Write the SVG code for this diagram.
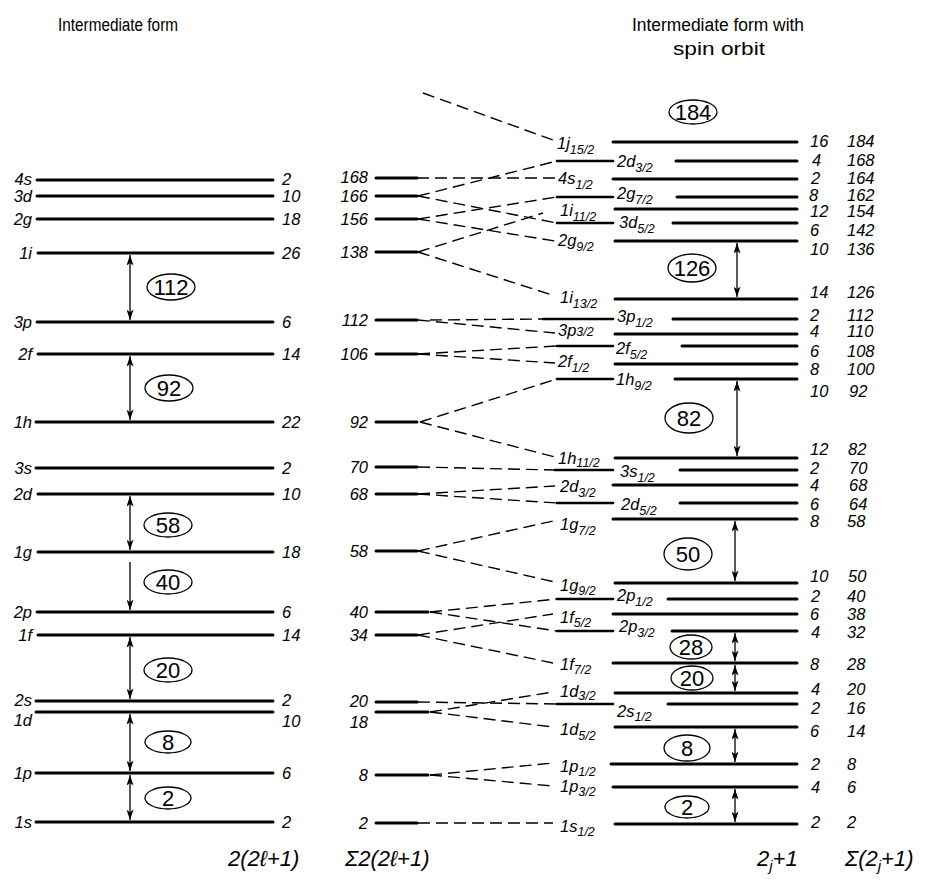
<svg xmlns="http://www.w3.org/2000/svg" width="949" height="882" viewBox="0 0 949 882">
<style>
.bg{fill:#fff}
.lv{stroke:#000;stroke-width:3;stroke-linecap:round}
.st{stroke:#000;stroke-width:2.6;stroke-linecap:round}
.dash{stroke:#000;stroke-width:1.4;stroke-dasharray:12 6;fill:none}
.t{font-family:"Liberation Sans",Arial,sans-serif;font-style:italic;font-size:16.5px;fill:#000}
.s{font-size:12.5px}
.title{font-family:"Liberation Sans",Arial,sans-serif;font-size:18px;fill:#000}
.c{font-family:"Liberation Sans",Arial,sans-serif;font-size:22px;text-anchor:middle;fill:#000}
.el{fill:none;stroke:#000;stroke-width:1.3}
.arr{stroke:#000;stroke-width:1.3;marker-end:url(#ah)}
.darr{stroke:#000;stroke-width:1.3;marker-start:url(#ah);marker-end:url(#ah)}
.e{text-anchor:end}
.bt{font-family:"Liberation Sans",Arial,sans-serif;font-style:italic;font-size:22px;fill:#000}
</style>
<defs>
<marker id="ah" viewBox="0 0 12 8" refX="12" refY="4" markerWidth="12" markerHeight="7" markerUnits="userSpaceOnUse" orient="auto-start-reverse"><path d="M0,0 L12,4 L0,8 L3,4 z" fill="#000"/></marker>
</defs>
<rect class="bg" x="0" y="0" width="949" height="882"/>

<!-- titles -->
<text class="title" x="58" y="31" textLength="120" lengthAdjust="spacingAndGlyphs">Intermediate form</text>
<text class="title" x="632" y="31" textLength="172" lengthAdjust="spacingAndGlyphs">Intermediate form with</text>
<text class="title" x="673" y="55" textLength="92" lengthAdjust="spacingAndGlyphs">spin orbit</text>

<!-- left column: intermediate form -->
<g id="L-4s"><line class="lv" x1="37" y1="180" x2="273" y2="180"/><text class="t e" x="32" y="185">4s</text><text class="t" x="282" y="185">2</text></g>
<g id="L-3d"><line class="lv" x1="37" y1="196" x2="273" y2="196"/><text class="t e" x="32" y="202">3d</text><text class="t" x="282" y="202">10</text></g>
<g id="L-2g"><line class="lv" x1="37" y1="219" x2="273" y2="219"/><text class="t e" x="32" y="225">2g</text><text class="t" x="282" y="225">18</text></g>
<g id="L-1i"><line class="lv" x1="38" y1="253" x2="273" y2="253"/><text class="t e" x="32" y="259">1i</text><text class="t" x="282" y="259">26</text></g>
<g id="L-3p"><line class="lv" x1="37" y1="322" x2="273" y2="322"/><text class="t e" x="32" y="328">3p</text><text class="t" x="282" y="328">6</text></g>
<g id="L-2f"><line class="lv" x1="38" y1="354" x2="273" y2="354"/><text class="t e" x="32" y="360">2f</text><text class="t" x="282" y="360">14</text></g>
<g id="L-1h"><line class="lv" x1="36" y1="422" x2="273" y2="422"/><text class="t e" x="32" y="428">1h</text><text class="t" x="282" y="428">22</text></g>
<g id="L-3s"><line class="lv" x1="36" y1="468" x2="273" y2="468"/><text class="t e" x="32" y="474">3s</text><text class="t" x="282" y="474">2</text></g>
<g id="L-2d"><line class="lv" x1="38" y1="494" x2="273" y2="494"/><text class="t e" x="32" y="500">2d</text><text class="t" x="282" y="500">10</text></g>
<g id="L-1g"><line class="lv" x1="38" y1="552" x2="273" y2="552"/><text class="t e" x="32" y="558">1g</text><text class="t" x="282" y="558">18</text></g>
<g id="L-2p"><line class="lv" x1="37" y1="612" x2="273" y2="612"/><text class="t e" x="32" y="618">2p</text><text class="t" x="282" y="618">6</text></g>
<g id="L-1f"><line class="lv" x1="38" y1="635" x2="273" y2="635"/><text class="t e" x="32" y="641">1f</text><text class="t" x="282" y="641">14</text></g>
<g id="L-2s"><line class="lv" x1="36" y1="701" x2="273" y2="701"/><text class="t e" x="32" y="706">2s</text><text class="t" x="282" y="706">2</text></g>
<g id="L-1d"><line class="lv" x1="36" y1="712" x2="273" y2="712"/><text class="t e" x="32" y="726">1d</text><text class="t" x="282" y="727">10</text></g>
<g id="L-1p"><line class="lv" x1="36" y1="773" x2="273" y2="773"/><text class="t e" x="32" y="779">1p</text><text class="t" x="282" y="779">6</text></g>
<g id="L-1s"><line class="lv" x1="36" y1="822" x2="273" y2="822"/><text class="t e" x="32" y="828">1s</text><text class="t" x="282" y="828">2</text></g>

<!-- left magic numbers -->
<g id="LM-112"><ellipse class="el" cx="171" cy="287" rx="24" ry="13"/><text class="c" x="171" y="295">112</text><line class="darr" x1="130" y1="255" x2="130" y2="320"/></g>
<g id="LM-92"><ellipse class="el" cx="169" cy="388" rx="24" ry="13"/><text class="c" x="169" y="396">92</text><line class="darr" x1="130" y1="356" x2="130" y2="420"/></g>
<g id="LM-58"><ellipse class="el" cx="168" cy="525" rx="24" ry="12"/><text class="c" x="168" y="533">58</text><line class="darr" x1="130" y1="496" x2="130" y2="550"/></g>
<g id="LM-40"><ellipse class="el" cx="168" cy="582" rx="24" ry="12"/><text class="c" x="168" y="590">40</text><line class="arr" x1="130" y1="562" x2="130" y2="610"/></g>
<g id="LM-20"><ellipse class="el" cx="168" cy="670" rx="24" ry="12"/><text class="c" x="168" y="678">20</text><line class="darr" x1="130" y1="637" x2="130" y2="699"/></g>
<g id="LM-8"><ellipse class="el" cx="168" cy="742" rx="23" ry="11"/><text class="c" x="168" y="750">8</text><line class="darr" x1="130" y1="714" x2="130" y2="771"/></g>
<g id="LM-2"><ellipse class="el" cx="168" cy="798" rx="23" ry="11"/><text class="c" x="168" y="806">2</text><line class="darr" x1="130" y1="775" x2="130" y2="820"/></g>

<!-- middle column: cumulative -->
<g id="M-168"><line class="lv" x1="376" y1="178" x2="417" y2="178"/><text class="t e" x="368" y="183">168</text></g>
<g id="M-166"><line class="lv" x1="376" y1="196" x2="417" y2="196"/><text class="t e" x="368" y="202">166</text></g>
<g id="M-156"><line class="lv" x1="376" y1="219" x2="417" y2="219"/><text class="t e" x="368" y="225">156</text></g>
<g id="M-138"><line class="lv" x1="376" y1="252" x2="417" y2="252"/><text class="t e" x="368" y="258">138</text></g>
<g id="M-112"><line class="lv" x1="376" y1="320" x2="417" y2="320"/><text class="t e" x="368" y="326">112</text></g>
<g id="M-106"><line class="lv" x1="376" y1="354" x2="417" y2="354"/><text class="t e" x="368" y="360">106</text></g>
<g id="M-92"><line class="lv" x1="376" y1="422" x2="417" y2="422"/><text class="t e" x="368" y="428">92</text></g>
<g id="M-70"><line class="lv" x1="376" y1="467" x2="417" y2="467"/><text class="t e" x="368" y="473">70</text></g>
<g id="M-68"><line class="lv" x1="376" y1="494" x2="417" y2="494"/><text class="t e" x="368" y="500">68</text></g>
<g id="M-58"><line class="lv" x1="376" y1="551" x2="417" y2="551"/><text class="t e" x="368" y="557">58</text></g>
<g id="M-40"><line class="lv" x1="376" y1="612" x2="428" y2="612"/><text class="t e" x="368" y="618">40</text></g>
<g id="M-34"><line class="lv" x1="376" y1="635" x2="417" y2="635"/><text class="t e" x="368" y="641">34</text></g>
<g id="M-20"><line class="lv" x1="376" y1="702" x2="417" y2="702"/><text class="t e" x="368" y="707">20</text></g>
<g id="M-18"><line class="lv" x1="376" y1="712" x2="428" y2="712"/><text class="t e" x="368" y="728">18</text></g>
<g id="M-8"><line class="lv" x1="376" y1="775" x2="428" y2="775"/><text class="t e" x="368" y="781">8</text></g>
<g id="M-2"><line class="lv" x1="376" y1="823" x2="417" y2="823"/><text class="t e" x="368" y="829">2</text></g>

<!-- sublevel labels (with stubs) -->
<g id="S-1j15"><text class="t" x="557" y="149">1j<tspan class="s" dy="5">15/2</tspan></text></g>
<g id="S-2d3a"><line class="st" x1="557" y1="161" x2="613" y2="161"/><text class="t" x="617" y="167">2d<tspan class="s" dy="5">3/2</tspan></text></g>
<g id="S-4s1"><text class="t" x="558" y="184">4s<tspan class="s" dy="5">1/2</tspan></text></g>
<g id="S-2g7"><line class="st" x1="557" y1="197" x2="613" y2="197"/><text class="t" x="617" y="199">2g<tspan class="s" dy="5">7/2</tspan></text></g>
<g id="S-1i11"><text class="t" x="560" y="216">1i<tspan class="s" dy="5">11/2</tspan></text></g>
<g id="S-3d5"><line class="st" x1="557" y1="223" x2="613" y2="223"/><text class="t" x="619" y="228">3d<tspan class="s" dy="5">5/2</tspan></text></g>
<g id="S-2g9"><text class="t" x="558" y="246">2g<tspan class="s" dy="5">9/2</tspan></text></g>
<g id="S-1i13"><text class="t" x="560" y="303">1i<tspan class="s" dy="5">13/2</tspan></text></g>
<g id="S-3p1"><line class="st" x1="543" y1="319" x2="613" y2="319"/><text class="t" x="617" y="322">3p<tspan class="s" dy="5">1/2</tspan></text></g>
<g id="S-3p3"><text class="t" x="558" y="336">3p<tspan class="s" dy="0">3/2</tspan></text></g>
<g id="S-2f5"><line class="st" x1="557" y1="346" x2="613" y2="346"/><text class="t" x="616" y="354">2f<tspan class="s" dy="5">5/2</tspan></text></g>
<g id="S-2f7"><text class="t" x="558" y="367">2f<tspan class="s" dy="5">1/2</tspan></text></g>
<g id="S-1h9"><line class="st" x1="557" y1="379" x2="613" y2="379"/><text class="t" x="616" y="385">1h<tspan class="s" dy="5">9/2</tspan></text></g>
<g id="S-1h11"><text class="t" x="558" y="464">1h<tspan class="s" dy="3">11/2</tspan></text></g>
<g id="S-3s1"><line class="st" x1="555" y1="470" x2="613" y2="470"/><text class="t" x="620" y="477">3s<tspan class="s" dy="5">1/2</tspan></text></g>
<g id="S-2d3b"><text class="t" x="560" y="492">2d<tspan class="s" dy="5">3/2</tspan></text></g>
<g id="S-2d5"><line class="st" x1="557" y1="503" x2="613" y2="503"/><text class="t" x="621" y="510">2d<tspan class="s" dy="5">5/2</tspan></text></g>
<g id="S-1g7"><text class="t" x="560" y="530">1g<tspan class="s" dy="5">7/2</tspan></text></g>
<g id="S-1g9"><text class="t" x="560" y="591">1g<tspan class="s" dy="4">9/2</tspan></text></g>
<g id="S-2p1"><line class="st" x1="557" y1="599" x2="613" y2="599"/><text class="t" x="617" y="601">2p<tspan class="s" dy="5">1/2</tspan></text></g>
<g id="S-1f5"><text class="t" x="560" y="623">1f<tspan class="s" dy="4">5/2</tspan></text></g>
<g id="S-2p3"><line class="st" x1="557" y1="631" x2="613" y2="631"/><text class="t" x="619" y="632">2p<tspan class="s" dy="5">3/2</tspan></text></g>
<g id="S-1f7"><text class="t" x="560" y="670">1f<tspan class="s" dy="4">7/2</tspan></text></g>
<g id="S-1d3"><text class="t" x="560" y="697">1d<tspan class="s" dy="3">3/2</tspan></text></g>
<g id="S-2s1"><line class="st" x1="557" y1="704" x2="613" y2="704"/><text class="t" x="617" y="717">2s<tspan class="s" dy="4">1/2</tspan></text></g>
<g id="S-1d5"><text class="t" x="560" y="735">1d<tspan class="s" dy="5">5/2</tspan></text></g>
<g id="S-1p1"><text class="t" x="560" y="772">1p<tspan class="s" dy="4">1/2</tspan></text></g>
<g id="S-1p3"><text class="t" x="560" y="792">1p<tspan class="s" dy="4">3/2</tspan></text></g>
<g id="S-1s1"><text class="t" x="560" y="832">1s<tspan class="s" dy="4">1/2</tspan></text></g>

<!-- right column: spin-orbit levels -->
<g id="R-184"><line class="lv" x1="613" y1="142" x2="797" y2="142"/><text class="t" x="810" y="147">16</text><text class="t" x="847" y="147">184</text></g>
<g id="R-168"><line class="lv" x1="676" y1="161" x2="797" y2="161"/><text class="t" x="812" y="166">4</text><text class="t" x="847" y="166">168</text></g>
<g id="R-164"><line class="lv" x1="613" y1="179" x2="797" y2="179"/><text class="t" x="811" y="184">2</text><text class="t" x="847" y="184">164</text></g>
<g id="R-162"><line class="lv" x1="677" y1="197" x2="797" y2="197"/><text class="t" x="809" y="201">8</text><text class="t" x="847" y="201">162</text></g>
<g id="R-154"><line class="lv" x1="615" y1="209" x2="797" y2="209"/><text class="t" x="810" y="217">12</text><text class="t" x="847" y="217">154</text></g>
<g id="R-142"><line class="lv" x1="673" y1="223" x2="797" y2="223"/><text class="t" x="810" y="236">6</text><text class="t" x="847" y="236">142</text></g>
<g id="R-136"><line class="lv" x1="615" y1="241" x2="797" y2="241"/><text class="t" x="810" y="255">10</text><text class="t" x="847" y="255">136</text></g>
<g id="R-126"><line class="lv" x1="615" y1="299" x2="797" y2="299"/><text class="t" x="810" y="298">14</text><text class="t" x="847" y="298">126</text></g>
<g id="R-112"><line class="lv" x1="673" y1="319" x2="797" y2="319"/><text class="t" x="810" y="321">2</text><text class="t" x="847" y="321">112</text></g>
<g id="R-110"><line class="lv" x1="615" y1="334" x2="797" y2="334"/><text class="t" x="810" y="337">4</text><text class="t" x="847" y="337">110</text></g>
<g id="R-108"><line class="lv" x1="682" y1="346" x2="797" y2="346"/><text class="t" x="810" y="357">6</text><text class="t" x="847" y="357">108</text></g>
<g id="R-100"><line class="lv" x1="615" y1="364" x2="797" y2="364"/><text class="t" x="810" y="375">8</text><text class="t" x="847" y="375">100</text></g>
<g id="R-92"><line class="lv" x1="675" y1="379" x2="797" y2="379"/><text class="t" x="810" y="397">10</text><text class="t" x="849" y="397">92</text></g>
<g id="R-82"><line class="lv" x1="615" y1="458" x2="797" y2="458"/><text class="t" x="810" y="455">12</text><text class="t" x="848" y="455">82</text></g>
<g id="R-70"><line class="lv" x1="680" y1="470" x2="797" y2="470"/><text class="t" x="810" y="474">2</text><text class="t" x="849" y="474">70</text></g>
<g id="R-68"><line class="lv" x1="613" y1="485" x2="797" y2="485"/><text class="t" x="810" y="491">4</text><text class="t" x="849" y="491">68</text></g>
<g id="R-64"><line class="lv" x1="680" y1="503" x2="797" y2="503"/><text class="t" x="810" y="510">6</text><text class="t" x="849" y="510">64</text></g>
<g id="R-58"><line class="lv" x1="613" y1="519" x2="797" y2="519"/><text class="t" x="810" y="527">8</text><text class="t" x="847" y="527">58</text></g>
<g id="R-50"><line class="lv" x1="615" y1="583" x2="797" y2="583"/><text class="t" x="810" y="582">10</text><text class="t" x="848" y="582">50</text></g>
<g id="R-40"><line class="lv" x1="668" y1="599" x2="797" y2="599"/><text class="t" x="811" y="602">2</text><text class="t" x="847" y="602">40</text></g>
<g id="R-38"><line class="lv" x1="613" y1="614" x2="797" y2="614"/><text class="t" x="810" y="620">6</text><text class="t" x="847" y="620">38</text></g>
<g id="R-32"><line class="lv" x1="672" y1="631" x2="797" y2="631"/><text class="t" x="811" y="638">4</text><text class="t" x="847" y="638">32</text></g>
<g id="R-28"><line class="lv" x1="613" y1="663" x2="797" y2="663"/><text class="t" x="810" y="670">8</text><text class="t" x="847" y="670">28</text></g>
<g id="R-20"><line class="lv" x1="615" y1="693" x2="797" y2="693"/><text class="t" x="811" y="695">4</text><text class="t" x="847" y="695">20</text></g>
<g id="R-16"><line class="lv" x1="668" y1="704" x2="797" y2="704"/><text class="t" x="811" y="714">2</text><text class="t" x="847" y="714">16</text></g>
<g id="R-14"><line class="lv" x1="615" y1="727" x2="797" y2="727"/><text class="t" x="810" y="737">6</text><text class="t" x="847" y="737">14</text></g>
<g id="R-8"><line class="lv" x1="611" y1="764" x2="797" y2="764"/><text class="t" x="811" y="770">2</text><text class="t" x="847" y="770">8</text></g>
<g id="R-6"><line class="lv" x1="613" y1="787" x2="797" y2="787"/><text class="t" x="811" y="793">4</text><text class="t" x="847" y="793">6</text></g>
<g id="R-2"><line class="lv" x1="615" y1="824" x2="797" y2="824"/><text class="t" x="811" y="828">2</text><text class="t" x="847" y="828">2</text></g>

<!-- right magic numbers -->
<g id="RM-184"><ellipse class="el" cx="693" cy="112" rx="24" ry="12"/><text class="c" x="693" y="120">184</text></g>
<g id="RM-126"><ellipse class="el" cx="692" cy="268" rx="24" ry="14"/><text class="c" x="692" y="276">126</text><line class="darr" x1="737" y1="243" x2="737" y2="297"/></g>
<g id="RM-82"><ellipse class="el" cx="689" cy="418" rx="24" ry="15"/><text class="c" x="689" y="426">82</text><line class="darr" x1="737" y1="381" x2="737" y2="456"/></g>
<g id="RM-50"><ellipse class="el" cx="688" cy="554" rx="24" ry="16"/><text class="c" x="688" y="562">50</text><line class="darr" x1="735" y1="521" x2="735" y2="581"/></g>
<g id="RM-28"><ellipse class="el" cx="691" cy="647" rx="21" ry="12"/><text class="c" x="691" y="655">28</text><line class="darr" x1="735" y1="633" x2="735" y2="661"/></g>
<g id="RM-20"><ellipse class="el" cx="692" cy="678" rx="21" ry="12"/><text class="c" x="692" y="686">20</text><line class="darr" x1="735" y1="665" x2="735" y2="691"/></g>
<g id="RM-8"><ellipse class="el" cx="687" cy="748" rx="23" ry="13"/><text class="c" x="687" y="756">8</text><line class="darr" x1="735" y1="729" x2="735" y2="762"/></g>
<g id="RM-2"><ellipse class="el" cx="687" cy="807" rx="22" ry="11"/><text class="c" x="687" y="815">2</text><line class="darr" x1="735" y1="789" x2="735" y2="822"/></g>

<!-- connectors -->
<g id="connectors">
<line class="dash" x1="423" y1="93" x2="553" y2="140"/>
<line class="dash" x1="417" y1="178" x2="555" y2="178"/>
<line class="dash" x1="418" y1="196" x2="557" y2="161"/>
<line class="dash" x1="418" y1="196" x2="557" y2="223"/>
<line class="dash" x1="418" y1="219" x2="557" y2="197"/>
<line class="dash" x1="418" y1="219" x2="555" y2="241"/>
<line class="dash" x1="418" y1="252" x2="543" y2="213"/>
<line class="dash" x1="418" y1="252" x2="555" y2="296"/>
<line class="dash" x1="430" y1="320" x2="543" y2="319"/>
<line class="dash" x1="418" y1="320" x2="555" y2="333"/>
<line class="dash" x1="418" y1="354" x2="557" y2="346"/>
<line class="dash" x1="418" y1="354" x2="555" y2="363"/>
<line class="dash" x1="420" y1="422" x2="557" y2="379"/>
<line class="dash" x1="420" y1="422" x2="555" y2="457"/>
<line class="dash" x1="418" y1="467" x2="555" y2="470"/>
<line class="dash" x1="418" y1="494" x2="555" y2="486"/>
<line class="dash" x1="418" y1="494" x2="557" y2="503"/>
<line class="dash" x1="418" y1="551" x2="553" y2="521"/>
<line class="dash" x1="418" y1="551" x2="555" y2="582"/>
<line class="dash" x1="430" y1="612" x2="557" y2="599"/>
<line class="dash" x1="430" y1="612" x2="557" y2="631"/>
<line class="dash" x1="418" y1="635" x2="553" y2="614"/>
<line class="dash" x1="418" y1="635" x2="553" y2="663"/>
<line class="dash" x1="418" y1="702" x2="557" y2="704"/>
<line class="dash" x1="430" y1="712" x2="553" y2="692"/>
<line class="dash" x1="430" y1="712" x2="553" y2="727"/>
<line class="dash" x1="430" y1="775" x2="553" y2="763"/>
<line class="dash" x1="430" y1="775" x2="553" y2="786"/>
<line class="dash" x1="418" y1="823" x2="553" y2="823"/>
</g>

<!-- column footers -->
<text class="bt" x="228" y="866">2(2ℓ+1)</text>
<text class="bt" x="345" y="866">Σ2(2ℓ+1)</text>
<text class="bt" x="757" y="866">2<tspan font-size="15" dy="5">j</tspan><tspan dy="-5">+1</tspan></text>
<text class="bt" x="845" y="866">Σ(2<tspan font-size="15" dy="5">j</tspan><tspan dy="-5">+1)</tspan></text>
</svg>
